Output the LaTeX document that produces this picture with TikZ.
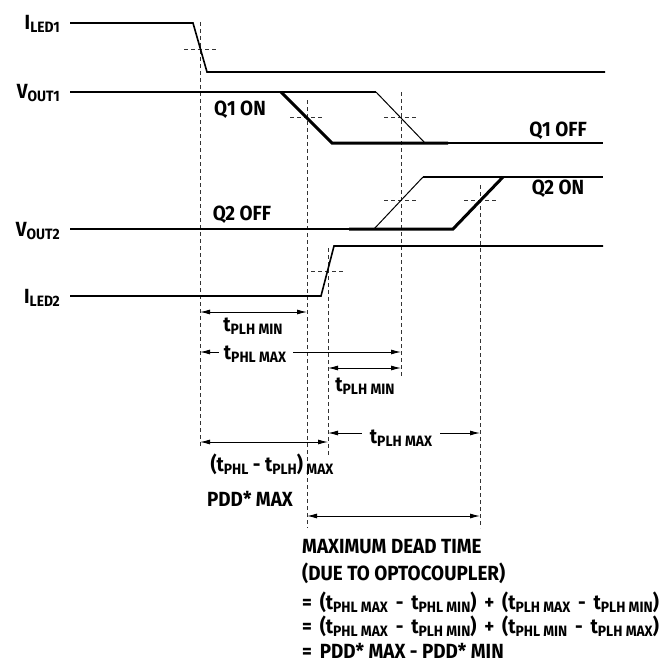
\documentclass[tikz,border=0pt]{standalone}
\usepackage{fontspec}
\setmainfont{Fira Sans}[BoldFont={Fira Sans Bold}, FakeStretch=0.92]
\usepackage{tikz}
\usetikzlibrary{arrows,positioning,calc}
\usetikzlibrary{arrows.meta}

\newcommand{\sublbl}[1]{\raisebox{-0.3ex}{\fontsize{15}{16}\selectfont #1}}
\newcommand{\tdel}[1]{t\sublbl{#1}}
\newcommand{\opsp}{\hspace{0.38em}}

\tikzset{
  sig/.style={line width=1.6pt},
  sigthick/.style={line width=3pt},
  sigthin/.style={line width=1pt},
  guide/.style={dash pattern=on 4pt off 3pt, line width=0.8pt, black!80},
  dimarrow/.style={line width=0.9pt, {Latex[length=10pt,width=5pt]}-{Latex[length=10pt,width=5pt]}},
  lbl/.style={font=\bfseries\fontsize{20.5}{22}\selectfont, inner sep=0pt},
}

\begin{document}
\begin{tikzpicture}[x=1pt,y=-1pt,line join=miter]
  \useasboundingbox (0,0) rectangle (672,669);
%%
  % Guides
  \draw [guide] (200,22) -- (200,448);
  \draw [guide] (184,49) -- (217,49);
  \draw [guide] (307,100) -- (307,528);
  \draw [guide] (290,117) -- (322,117);
  \draw [guide] (401,92) -- (401,378);
  \draw [guide] (384,117) -- (417,117);
  \draw [guide] (384,200) -- (416,200);
  \draw [guide] (328,248) -- (328,457);
  \draw [guide] (311,271) -- (343,271);
  \draw [guide] (480,185) -- (480,528);
  \draw [guide] (464,200) -- (497,200);
  % Signal: ILED1
  \draw [sig] (70,23) -- (193,23) -- (207,72) -- (605,72);
  \node [lbl, anchor=base east] (iled1) at (60,29.5) {I\sublbl{LED1}};
  % Signal: VOUT1
  \draw [sig] (70,92) -- (376,92);
  \draw [sigthin] (376,92) -- (425,143);
  \draw [sigthick] (281,92) -- (332,143) -- (448,143);
  \draw [line width=1.3pt] (448,143) -- (603,143);
  \node [lbl, anchor=base east] (vout1) at (60,98.5) {V\sublbl{OUT1}};
  % Signal: VOUT2
  \draw [sig] (70,229) -- (349,229);
  \draw [sigthick] (349,229) -- (453,229) -- (503,177);
  \draw [sigthin] (374,229) -- (423,177);
  \draw [sig] (423,177) -- (603,177);
  \node [lbl, anchor=base east] (vout2) at (60,236.5) {V\sublbl{OUT2}};
  % Signal: ILED2
  \draw [sig] (70,296) -- (321,296) -- (334,246) -- (603,246);
  \node [lbl, anchor=base east] (iled2) at (60,303.5) {I\sublbl{LED2}};
  % States
  \node [lbl, anchor=base] (q1on) at (240,115.5) {Q1 ON};
  \node [lbl, anchor=base] (q1off) at (558,136.5) {Q1 OFF};
  \node [lbl, anchor=base] (q2on) at (558,194.5) {Q2 ON};
  \node [lbl, anchor=base] (q2off) at (242,220.5) {Q2 OFF};
  % Delays
  \coordinate (a1) at (200,312);
  \coordinate (b1) at (307,312);
  \draw [dimarrow] (a1) -- (b1);
  \node [lbl, anchor=base] (tplhmin) at (253,331) {\tdel{PLH MIN}};
  \coordinate (a2) at (200,352);
  \coordinate (b2) at (401,352);
  \node [lbl, anchor=base] (tphlmax) at (255,359) {\tdel{PHL MAX}};
  \draw [dimarrow, -{Latex[length=10pt,width=5pt]}] (a2 -| tphlmax.west) ++(-5,0) -- (a2);
  \draw [dimarrow, -{Latex[length=10pt,width=5pt]}] (b2 -| tphlmax.east) ++(7,0) -- (b2);
  \coordinate (a3) at (328,368);
  \coordinate (b3) at (401,368);
  \draw [dimarrow] (a3) -- (b3);
  \node [lbl, anchor=base] (tplhmin2) at (365,391) {\tdel{PLH MIN}};
  \coordinate (a4) at (328,433);
  \coordinate (b4) at (480,433);
  \node [lbl, anchor=base] (tplhmax) at (401,443) {\tdel{PLH MAX}};
  \draw [dimarrow, -{Latex[length=10pt,width=5pt]}] (a4 -| tplhmax.west) ++(-8,0) -- (a4);
  \draw [dimarrow, -{Latex[length=10pt,width=5pt]}] (b4 -| tplhmax.east) ++(8,0) -- (b4);
  \coordinate (a5) at (200,442);
  \coordinate (b5) at (328,442);
  \draw [dimarrow] (a5) -- (b5);
  \node [lbl, anchor=base] (pddlbl) at (272,471) {(\tdel{PHL} - \tdel{PLH})\,\sublbl{MAX}};
  \node [lbl, anchor=base] (pddmax) at (250,506) {PDD* MAX};
  % Dead time
  \coordinate (a6) at (307,516);
  \coordinate (b6) at (480,516);
  \draw [dimarrow] (a6) -- (b6);
  \node [lbl, anchor=base west] (dead1) at (302,553.5) {MAXIMUM DEAD TIME};
  \node [lbl, anchor=base west] (dead2) at (302,580) {(DUE TO OPTOCOUPLER)};
  \node [lbl, anchor=base west] (dead3) at (302,609) {=\opsp(\tdel{PHL MAX}\opsp-\opsp\tdel{PHL MIN})\opsp+\opsp(\tdel{PLH MAX}\opsp-\opsp\tdel{PLH MIN})};
  \node [lbl, anchor=base west] (dead4) at (302,633) {=\opsp(\tdel{PHL MAX}\opsp-\opsp\tdel{PLH MIN})\opsp+\opsp(\tdel{PHL MIN}\opsp-\opsp\tdel{PLH MAX})};
  \node [lbl, anchor=base west] (dead5) at (302,658) {=\opsp PDD* MAX - PDD* MIN};
%
\end{tikzpicture}
\end{document}
